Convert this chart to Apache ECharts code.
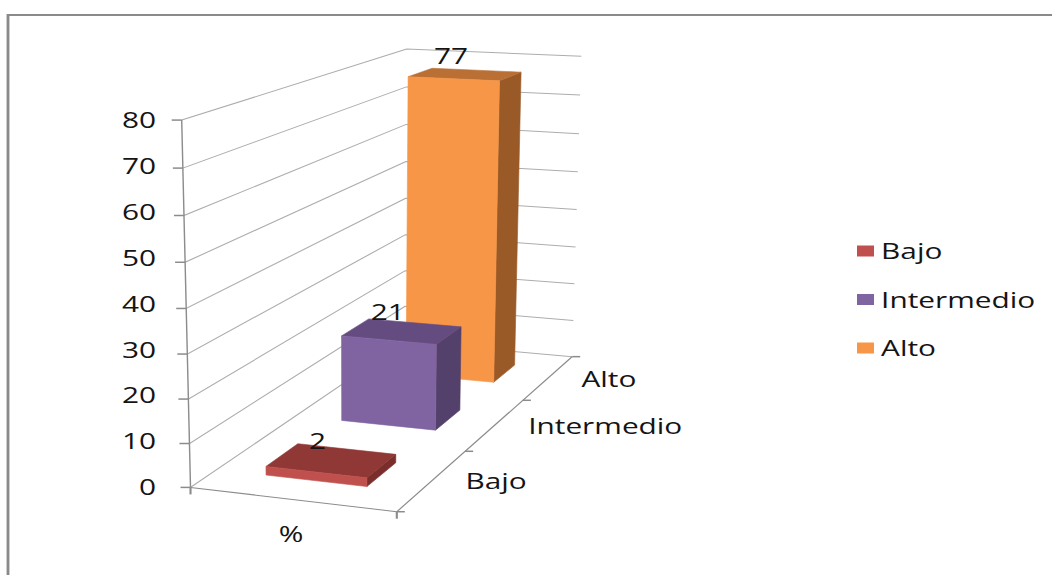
<!DOCTYPE html>
<html>
<head>
<meta charset="utf-8">
<script src="https://cdn.jsdelivr.net/npm/echarts@6/dist/echarts.min.js"></script>
<style>
  html, body { margin: 0; padding: 0; background: #ffffff; overflow: hidden; }
  #chart { position: absolute; left: 0; top: 0; height: 575px; transform-origin: 0 0; }
</style>
</head>
<body>
<div id="chart"></div>
<script>
// ---- data ----
const categories = ['Bajo', 'Intermedio', 'Alto'];
const values = [2, 21, 77];
const xCategory = ['%'];
const yTicks = [0, 10, 20, 30, 40, 50, 60, 70, 80];

// ---- palette ----
const frontColors = ['#C0504D', '#8064A2', '#F79646'];
const topColors = ['#8F3836', '#644C80', '#BA7035'];
const sideColors = ['#792E2C', '#53406B', '#9A5A28'];
const textColor = '#141414';
const gridColor = '#adadad';
const axisColor = '#8c8c8c';
const FONT = "'Open Sans', 'Noto Sans', sans-serif";
const FONT_SIZE = 21;

// ---- layout (page pixels); the whole drawing is stretched horizontally by S ----
const S = 1.42;
const PAGE_W = 1052, PAGE_H = 575;
const W = PAGE_W / S;
const sx = x => x / S;

// Screen position of the plot box corners: [X across, Y up, Z depth, pageX, pageY]
const boxCorners = [
  [0, 0, 0, 190, 487], [1, 0, 0, 397, 512],
  [1, 0, 1 / 3, 466, 451], [1, 0, 2 / 3, 522, 400], [1, 0, 1, 573, 357],
  [0, 1, 0, 182, 120], [0, 0.5, 0, 186, 309],
  [0, 1, 1, 407, 49], [1, 1, 1, 581, 56], [1, 0.375, 1, 575, 247]
];

// Pinhole camera fitted to the box corners (least squares, 11 parameters)
function fitCamera(anchors) {
  const n = 11, M = [], r = [];
  for (let i = 0; i < n; i++) { M.push(new Array(n).fill(0)); r.push(0); }
  anchors.forEach(([X, Y, Z, px, py]) => {
    const u = sx(px) / 100, v = py / 100;
    const rows = [
      [[X, Y, Z, 1, 0, 0, 0, 0, -u * X, -u * Y, -u * Z], u],
      [[0, 0, 0, 0, X, Y, Z, 1, -v * X, -v * Y, -v * Z], v]
    ];
    rows.forEach(([row, t]) => {
      for (let i = 0; i < n; i++) {
        r[i] += row[i] * t;
        for (let j = 0; j < n; j++) M[i][j] += row[i] * row[j];
      }
    });
  });
  for (let c = 0; c < n; c++) {
    let p = c;
    for (let k = c + 1; k < n; k++) if (Math.abs(M[k][c]) > Math.abs(M[p][c])) p = k;
    [M[c], M[p]] = [M[p], M[c]]; [r[c], r[p]] = [r[p], r[c]];
    for (let k = c + 1; k < n; k++) {
      const f = M[k][c] / M[c][c];
      for (let j = c; j < n; j++) M[k][j] -= f * M[c][j];
      r[k] -= f * r[c];
    }
  }
  const p = new Array(n);
  for (let i = n - 1; i >= 0; i--) {
    let s = r[i];
    for (let j = i + 1; j < n; j++) s -= M[i][j] * p[j];
    p[i] = s / M[i][i];
  }
  return (X, Y, Z) => {
    const w = p[8] * X + p[9] * Y + p[10] * Z + 1;
    return [100 * (p[0] * X + p[1] * Y + p[2] * Z + p[3]) / w,
            100 * (p[4] * X + p[5] * Y + p[6] * Z + p[7]) / w];
  };
}
const proj = fitCamera(boxCorners);

const Y_MAX = yTicks[yTicks.length - 1];
// Height of a value as a fraction of the wall, read through the value axis
function heightOf(api, v) {
  const y0 = api.coord([0, 0])[1];
  const yTop = api.coord([0, Y_MAX])[1];
  return (y0 - api.coord([0, v])[1]) / (y0 - yTop);
}

const BAR_X0 = 0.25, BAR_X1 = 0.75;   // bar extent across the floor
const BAR_HALF_DEPTH = 0.0667;        // half bar depth (floor depth = 1)
const slotCenter = i => (i + 0.5) / categories.length;

function line(points, stroke, width) {
  return { type: 'polyline', silent: true, shape: { points }, style: { stroke, lineWidth: width, fill: null } };
}
function label(text, x, y, align) {
  return {
    type: 'text', silent: true, x, y,
    style: { text, fill: textColor, fontSize: FONT_SIZE, fontFamily: FONT, align: align || 'center', verticalAlign: 'middle' }
  };
}

// Walls, gridlines, floor edges and depth-axis labels
function renderFrame(params, api) {
  const children = [];
  yTicks.forEach(t => {
    const h = heightOf(api, t);
    children.push(line([proj(0, h, 0), proj(0, h, 1), proj(1, h, 1)], gridColor, 1));
  });
  // front vertical edge + ticks
  children.push(line([proj(0, 0, 0), proj(0, 1, 0)], axisColor, 1));
  yTicks.forEach(t => {
    const p = proj(0, heightOf(api, t), 0);
    children.push(line([[p[0] - sx(10), p[1]], p], axisColor, 1.5));
  });
  // floor front edge with end ticks
  const a = proj(0, 0, 0), b = proj(1, 0, 0);
  children.push(line([a, b], axisColor, 1));
  children.push(line([a, [a[0], a[1] + 7]], axisColor, 1.5));
  children.push(line([b, [b[0], b[1] + 7]], axisColor, 1.5));
  // depth axis with ticks at slot boundaries
  children.push(line([proj(1, 0, 0), proj(1, 0, 1)], axisColor, 1));
  for (let k = 0; k <= categories.length; k++) {
    const p = proj(1, 0, k / categories.length);
    children.push(line([p, [p[0] + sx(8), p[1]]], axisColor, 1.5));
  }
  categories.forEach((c, i) => {
    const p = proj(1, 0, slotCenter(i));
    children.push(label(c, p[0] + sx(33), p[1] + 1, 'left'));
  });
  return { type: 'group', children };
}

// One 3D column per category
function makeBar(i) {
  return function (params, api) {
    const v = api.value(1);
    const h = heightOf(api, v);
    const zc = slotCenter(i);
    const f = zc - BAR_HALF_DEPTH, bk = zc + BAR_HALF_DEPTH;
    const l = BAR_X0, r = BAR_X1;
    const poly = (pts, fill) => ({ type: 'polygon', shape: { points: pts }, style: { fill, stroke: fill, lineWidth: 0.5 } });
    const side = poly([proj(r, 0, f), proj(r, 0, bk), proj(r, h, bk), proj(r, h, f)], sideColors[i]);
    const top = poly([proj(l, h, f), proj(r, h, f), proj(r, h, bk), proj(l, h, bk)], topColors[i]);
    const front = poly([proj(l, 0, f), proj(r, 0, f), proj(r, h, f), proj(l, h, f)], frontColors[i]);
    const c = proj((l + r) / 2, h, zc);
    const txt = label(String(v), c[0] - sx(14), c[1] - 19);
    return { type: 'group', children: [side, top, front, txt] };
  };
}

const dom = document.getElementById('chart');
dom.style.width = W + 'px';
dom.style.transform = 'scaleX(' + S + ')';
const chart = echarts.init(dom, null, { renderer: 'svg', width: W, height: PAGE_H });

const barSeries = categories.map((c, i) => ({
  type: 'custom', name: c, coordinateSystem: 'cartesian2d', clip: false,
  itemStyle: { color: frontColors[i] },
  data: [[0, values[i]]],
  renderItem: makeBar(i)
})).reverse(); // back to front

chart.setOption({
  animation: false,
  graphic: [{
    type: 'rect', silent: true, z: -10,
    shape: { x: sx(8), y: 15, width: W, height: PAGE_H },
    style: { fill: null, stroke: '#8a8a8a', lineWidth: 2 }
  }],
  grid: { left: sx(186), right: W - sx(396), top: 120, bottom: PAGE_H - 487, containLabel: false },
  xAxis: {
    type: 'category', data: xCategory,
    axisLine: { show: false }, axisTick: { show: false }, splitLine: { show: false },
    axisLabel: { margin: 36, fontSize: FONT_SIZE, fontFamily: FONT, color: textColor }
  },
  yAxis: {
    type: 'value', min: 0, max: Y_MAX, interval: 10,
    axisLine: { show: false }, axisTick: { show: false }, splitLine: { show: false },
    axisLabel: { margin: sx(30), fontSize: FONT_SIZE, fontFamily: FONT, color: textColor }
  },
  legend: {
    data: categories, orient: 'vertical', left: sx(857), top: 240, padding: 0,
    icon: 'rect', itemWidth: sx(17), itemHeight: 11, itemGap: 26.5,
    textStyle: { fontSize: FONT_SIZE, fontFamily: FONT, color: textColor, lineHeight: 22 }
  },
  series: [{
    type: 'custom', name: 'frame', coordinateSystem: 'cartesian2d', clip: false, silent: true,
    data: [[0, 0]], renderItem: renderFrame
  }].concat(barSeries)
});
</script>
</body>
</html>
